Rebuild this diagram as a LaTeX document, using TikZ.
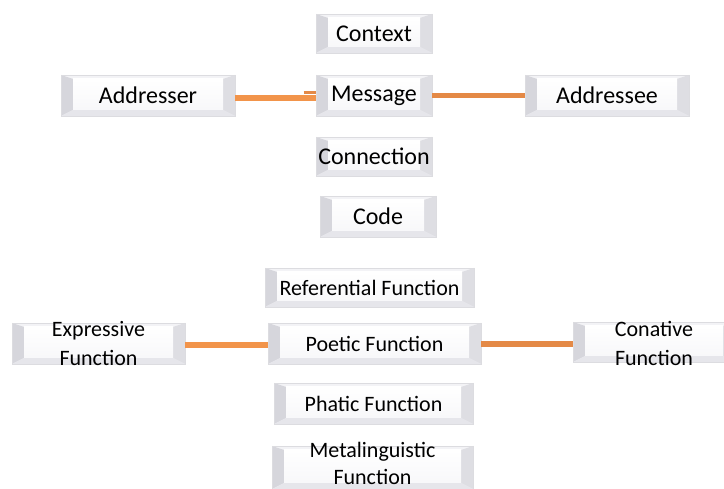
\documentclass[tikz,border=0pt]{standalone}
\usepackage{fontspec}
\setmainfont{Carlito}
\definecolor{orA}{RGB}{242,148,74}
\definecolor{orB}{RGB}{228,137,70}
\definecolor{frame}{RGB}{220,220,224}
\definecolor{bevL}{RGB}{214,214,220}
\definecolor{bevR}{RGB}{222,222,227}
\definecolor{bevB}{RGB}{230,230,235}
\definecolor{bevT}{RGB}{243,243,246}
\tikzset{
  btn/.style={inner sep=0pt, font=\fontsize{24}{28}\selectfont, text=black,
    draw=frame, line width=0.8pt, fill=bevT,
    path picture={
      \fill[bevL] (path picture bounding box.north west) -- ([xshift=12pt,yshift=-4pt]path picture bounding box.north west)
         -- ([xshift=12pt,yshift=6pt]path picture bounding box.south west) -- (path picture bounding box.south west) -- cycle;
      \fill[bevR] (path picture bounding box.north east) -- ([xshift=-12pt,yshift=-4pt]path picture bounding box.north east)
         -- ([xshift=-12pt,yshift=6pt]path picture bounding box.south east) -- (path picture bounding box.south east) -- cycle;
      \fill[bevB] (path picture bounding box.south west) -- ([xshift=12pt,yshift=6pt]path picture bounding box.south west)
         -- ([xshift=-12pt,yshift=6pt]path picture bounding box.south east) -- (path picture bounding box.south east) -- cycle;
      \shade[top color=white, bottom color=bevT!60!white] ([xshift=12pt,yshift=6pt]path picture bounding box.south west)
         rectangle ([xshift=-12pt,yshift=-4pt]path picture bounding box.north east);
    }},
  small/.style={font=\fontsize{22}{28}\selectfont},
  lbl/.style={font=\fontsize{22}{28.5}\selectfont, align=center, text=black},
  link/.style={line width=6.5pt, orA},
  linkb/.style={line width=5.5pt, orB}
}
\begin{document}
\begin{tikzpicture}[x=1pt,y=-1pt]
\clip (0,0) rectangle (724,489);
\fill[white] (0,0) rectangle (724,489);
% top group
\node[btn, minimum width=116pt, minimum height=39pt] (context) at (374,33.5) {Context};
\node[btn, minimum width=116pt, minimum height=41pt] (message) at (374,95.5) {Message};
\node[btn, minimum width=174pt, minimum height=41pt] (addresser) at (148,95.5) {Addresser};
\node[btn, minimum width=164pt, minimum height=41pt] (addressee) at (607,95.5) {Addressee};
\node[btn, minimum width=116pt, minimum height=39pt] (connection) at (374,156.5) {Connection};
\node[btn, minimum width=116pt, minimum height=41pt] (code) at (378,216.5) {Code};
% bottom group
\node[btn, small, minimum width=209pt, minimum height=39pt] (referential) at (369.5,287.5) {Referential Function};
\node[btn, minimum width=173pt, minimum height=41pt,
  label={[lbl]center:Expressive\\Function}] (expressive) at (98.5,343.5) {};
\node[btn, small, minimum width=213pt, minimum height=41pt] (poetic) at (374.5,343.5) {Poetic Function};
\node[btn, minimum width=162pt, minimum height=40pt] (conative) at (654,342) {};
\node[lbl] (conativetext) at (654,343.5) {Conative\\Function};
\node[btn, small, minimum width=199pt, minimum height=41pt] (phatic) at (373.5,403.5) {Phatic Function};
\node[btn, minimum width=201pt, minimum height=43pt] (metaling) at (372.5,467.5) {};
\node[lbl, inner sep=0pt, font=\fontsize{22}{27}\selectfont] (metalingtext) at (372.5,463) {Metalinguistic\\Function};
% connectors
\draw[link] ([yshift=-2.5pt]addresser.east) -- ([yshift=-2.5pt]message.west);
\coordinate (stub) at ([xshift=-12pt,yshift=3pt]message.west);
\draw[line width=3.5pt, orB] (stub) -- ([yshift=3pt]message.west);
\draw[linkb] ([yshift=0pt]message.east) -- ([yshift=0pt]addressee.west);
\draw[link] ([yshift=-1.5pt]expressive.east) -- ([yshift=-1.5pt]poetic.west);
\draw[linkb] ([yshift=-0.5pt]poetic.east) -- ([yshift=-2pt]conative.west);
\end{tikzpicture}
\end{document}
